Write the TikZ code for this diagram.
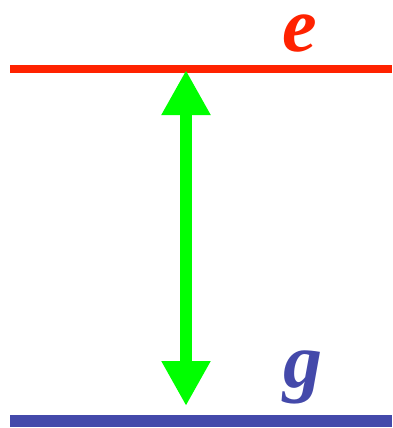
\documentclass[tikz,border=0pt]{standalone}
\usepackage{fontspec}
\setmainfont{Liberation Serif}
\usetikzlibrary{arrows.meta}
\definecolor{lvred}{HTML}{FF2200}
\definecolor{lvblue}{HTML}{4449AA}
\definecolor{lvgreen}{HTML}{00FF00}
\tikzset{
  level/.style={line width=#1},
  lbl/.style={font=\fontsize{78}{80}\selectfont\bfseries\itshape, inner sep=0pt, anchor=base, text height=0.45em, text depth=0.22em},
  trans/.style={lvgreen, line width=12pt, {Triangle[width=46pt,length=45pt]}-{Triangle[width=46pt,length=45pt]}}
}
\begin{document}
\begin{tikzpicture}[x=1pt,y=-1pt]
\useasboundingbox (0,0) rectangle (392,428);
\draw[level=8pt, lvred] (10,69) -- (392,69);
\draw[level=12pt, lvblue] (10,421) -- (392,421);
\node[lbl, text=lvred] (e) at (300,52) {e};
\node[lbl, text=lvblue] (g) at (303,387) {g};
\coordinate (top) at (186,70);
\coordinate (bot) at (186,406);
\draw[trans] (top) -- (bot);
\end{tikzpicture}
\end{document}
